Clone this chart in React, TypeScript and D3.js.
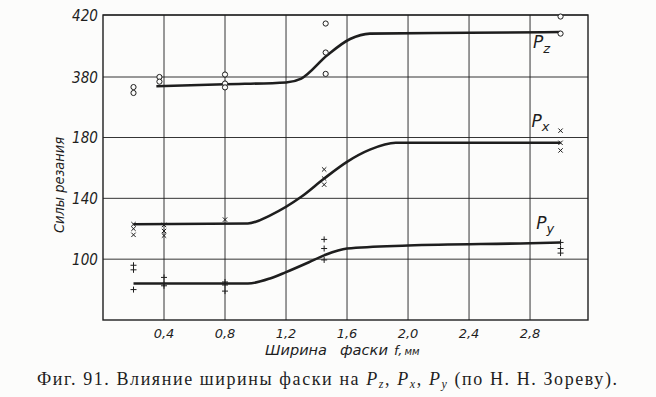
import * as d3 from "d3";
import React from "react";

// x ticks (ширина фаски, мм)
const xTicks = [0.4, 0.8, 1.2, 1.6, 2.0, 2.4, 2.8];
const yTicksLow = [100, 140, 180];
const yTicksHigh = [380, 420];

// Pz curve and measured points (upper part of the broken axis)
const pzCurve: [number, number][] = [
  [0.35, 374], [0.8, 375.3], [1.2, 376.5], [1.3, 379], [1.47, 394],
  [1.62, 404.5], [1.75, 408], [2.4, 408.5], [3.0, 409],
];
const pzPoints: [number, number][] = [
  [0.2, 373.5], [0.2, 369.7], [0.37, 380], [0.37, 377],
  [0.8, 381.6], [0.8, 375.8], [0.8, 373.3],
  [1.46, 414.5], [1.46, 395.8], [1.46, 382], [3.0, 419], [3.0, 408],
];

// Px
const pxCurve: [number, number][] = [
  [0.2, 123], [0.95, 123.5], [1.1, 129], [1.3, 141], [1.45, 153],
  [1.6, 164], [1.75, 172], [1.92, 176.5], [3.0, 176.5],
];
const pxPoints: [number, number][] = [
  [0.2, 123], [0.2, 120], [0.2, 116], [0.4, 122.5], [0.4, 118.5], [0.4, 115.5],
  [0.8, 126], [1.45, 159], [1.45, 153], [1.45, 149], [3.0, 184.5], [3.0, 176.5], [3.0, 171.5],
];

// Py
const pyCurve: [number, number][] = [
  [0.2, 84], [0.95, 84], [1.1, 87.5], [1.2, 91.5], [1.35, 98], [1.45, 102.5],
  [1.6, 107], [2.0, 109], [2.8, 110.5], [3.0, 111],
];
const pyPoints: [number, number][] = [
  [0.2, 96], [0.2, 93], [0.2, 80], [0.4, 88], [0.4, 84], [0.4, 82.5],
  [0.8, 85], [0.8, 83], [0.8, 79], [1.45, 113], [1.45, 107], [1.45, 99.5],
  [3.0, 111], [3.0, 107], [3.0, 104],
];

const ink = "#1e1e1e";
const paper = "#fcfcfb";
const axisFont = "'DejaVu Sans', sans-serif";

export default function App() {
  const width = 656, height = 397;
  const left = 103, right = 588, top = 15, bottom = 320;

  const x = d3.scaleLinear().domain([0, 3.18]).range([left, right]);
  // broken axis: lower part 60..180, upper part 380..420
  const yLow = d3.scaleLinear().domain([60, 180]).range([bottom, 137.5]);
  const yHigh = d3.scaleLinear().domain([380, 420]).range([77, top]);

  const lineLow = d3.line<[number, number]>()
    .x(d => x(d[0])).y(d => yLow(d[1])).curve(d3.curveMonotoneX);
  const lineHigh = d3.line<[number, number]>()
    .x(d => x(d[0])).y(d => yHigh(d[1])).curve(d3.curveMonotoneX);

  const cross = (cx: number, cy: number, k: string) => (
    <path key={k} d={`M${cx - 2.2},${cy - 2.2}L${cx + 2.2},${cy + 2.2}M${cx + 2.2},${cy - 2.2}L${cx - 2.2},${cy + 2.2}`}
      stroke={ink} strokeWidth={1} />
  );
  const plus = (cx: number, cy: number, k: string) => (
    <path key={k} d={`M${cx - 3},${cy}L${cx + 3},${cy}M${cx},${cy - 3}L${cx},${cy + 3}`}
      stroke={ink} strokeWidth={1} />
  );

  const yTickRows = [
    ...yTicksHigh.map(v => ({ v, y: yHigh(v) })),
    ...yTicksLow.map(v => ({ v, y: yLow(v) })),
  ];

  return (
    <svg width={width} height={height} style={{ position: "absolute", left: 0, top: 0, background: paper }}>
      {/* grid */}
      {xTicks.map(t => (
        <line key={"gx" + t} x1={x(t)} x2={x(t)} y1={top} y2={bottom} stroke={ink} strokeWidth={0.9} />
      ))}
      {yTickRows.map(r => (
        <line key={"gy" + r.v} x1={left} x2={right} y1={r.y} y2={r.y} stroke={ink} strokeWidth={0.9} />
      ))}
      <rect x={left} y={top} width={right - left} height={bottom - top} fill="none" stroke={ink} strokeWidth={1.4} />

      {/* y tick labels */}
      {yTickRows.map(r => (
        <text key={"ty" + r.v} x={98} y={r.y} dy="0.36em" textAnchor="end"
          fontFamily={axisFont} fontStyle="italic" fontSize={16}
          transform={`translate(98,0) scale(0.85,1) translate(-98,0)`} fill={ink}>{r.v}</text>
      ))}
      {/* x tick labels */}
      {xTicks.map(t => (
        <text key={"tx" + t} x={x(t)} y={338} textAnchor="middle"
          fontFamily={axisFont} fontStyle="italic" fontSize={13} fill={ink}>
          {d3.format(".1f")(t).replace(".", ",")}
        </text>
      ))}

      {/* axis titles */}
      <text transform="translate(64,185) rotate(-90)" textAnchor="middle" fontFamily={axisFont}
        fontStyle="italic" fontSize={14} fill={ink} textLength={96} lengthAdjust="spacingAndGlyphs">Силы резания</text>
      <g fontFamily={axisFont} fontStyle="italic" fill={ink}>
        <text x={265} y={355} fontSize={14} textLength={62} lengthAdjust="spacingAndGlyphs">Ширина</text>
        <text x={340} y={355} fontSize={14} textLength={48} lengthAdjust="spacingAndGlyphs">фаски</text>
        <text x={394} y={355} fontSize={13}>f,<tspan fontSize={10} dx={2}>мм</tspan></text>
      </g>

      {/* curves */}
      <path d={lineHigh(pzCurve) ?? ""} fill="none" stroke={ink} strokeWidth={2.6} />
      <path d={lineLow(pxCurve) ?? ""} fill="none" stroke={ink} strokeWidth={2.6} />
      <path d={lineLow(pyCurve) ?? ""} fill="none" stroke={ink} strokeWidth={2.6} />

      {/* points */}
      {pzPoints.map((d, i) => (
        <circle key={"pz" + i} cx={x(d[0])} cy={yHigh(d[1])} r={2.6} fill={paper} stroke={ink} strokeWidth={1} />
      ))}
      {pxPoints.map((d, i) => cross(x(d[0]), yLow(d[1]), "px" + i))}
      {pyPoints.map((d, i) => plus(x(d[0]), yLow(d[1]), "py" + i))}

      {/* series labels */}
      <text x={x(2.82)} y={yHigh(399)} fontFamily={axisFont} fontStyle="italic" fontSize={17} fill={ink}>
        P<tspan fontSize={13} dy={5}>z</tspan>
      </text>
      <text x={x(2.81)} y={yLow(187)} fontFamily={axisFont} fontStyle="italic" fontSize={17} fill={ink}>
        P<tspan fontSize={13} dy={4}>x</tspan>
      </text>
      <text x={x(2.84)} y={yLow(120)} fontFamily={axisFont} fontStyle="italic" fontSize={17} fill={ink}>
        P<tspan fontSize={13} dy={4}>y</tspan>
      </text>

      {/* caption */}
      <text x={37} y={385} fontFamily="'Liberation Serif', serif" fontSize={18} fill={ink}
        textLength={580} lengthAdjust="spacing">
        Фиг. 91. Влияние ширины фаски на <tspan fontStyle="italic">P</tspan><tspan fontStyle="italic" fontSize={12} dy={3}>z</tspan><tspan dy={-3}>, </tspan><tspan fontStyle="italic">P</tspan><tspan fontStyle="italic" fontSize={12} dy={3}>x</tspan><tspan dy={-3}>, </tspan><tspan fontStyle="italic">P</tspan><tspan fontStyle="italic" fontSize={12} dy={3}>y</tspan><tspan dy={-3}> (по Н. Н. Зореву).</tspan>
      </text>
    </svg>
  );
}
